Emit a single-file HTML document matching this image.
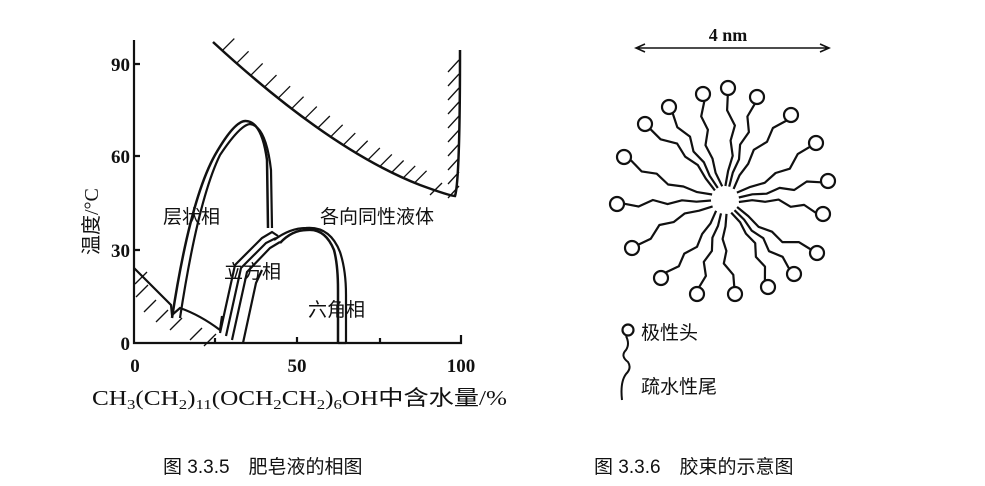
<!DOCTYPE html>
<html><head><meta charset="utf-8"><style>
html,body{margin:0;padding:0;background:#fff;}
svg{display:block}
text{font-family:"Liberation Serif","Noto Serif CJK SC",serif;fill:#111}
.cj{font-family:"Liberation Sans","Noto Sans CJK SC",sans-serif}
</style></head><body>
<svg id="s" width="985" height="486" viewBox="0 0 985 486" xmlns="http://www.w3.org/2000/svg">
<g fill="none" stroke="#111" stroke-width="2.2">
<path d="M134 40 V343 H461 V335"/>
<path d="M134 64 h6 M134 156 h6 M134 250 h6 M297 343 v-6 M215 343 v-5 M380 343 v-5"/>
<path d="M213 42 Q330 150 420 185 Q450 196 455 196 Q460 180 460 50" stroke-width="2.5"/>
<path d="M134 268 L171 305 L172 315 L180 308 Q200 315 220 330 L222 316"/>
<!-- lamellar dome -->
<path d="M172 318 Q190 200 215 155 Q235 120 246 121 Q262 122 267 160 L268 228" stroke-width="2.5"/>
<path d="M180 318 Q198 200 220 155 Q240 125 250 124 Q266 126 271 170 L272 228"/>
<!-- cubic bands -->
<path d="M220 333 L235 265 L262 238 L272 232 L278 236"/>
<path d="M226 336 L241 268 L266 243 L276 238"/>
<path d="M232 340 L247 272 L270 248 L280 242"/>
<path d="M243 343 L256 283 L262 270"/>
<!-- hexagonal dome -->
<path d="M280 243 Q292 230 307 230 Q325 228 334 250 Q338 265 338 290 V343" stroke-width="2.5"/>
<path d="M274 240 Q290 228 306 228 Q330 226 340 252 Q346 270 346 295 V343"/>
<path d="M338 343 H346"/>
</g>
<g id="h" stroke="#111" stroke-width="1.3"></g>
<g id="m" fill="none" stroke="#111" stroke-width="2.2"></g>
<text x="130" y="71" font-size="19" text-anchor="end" font-weight="bold">90</text>
<text x="130" y="163" font-size="19" text-anchor="end" font-weight="bold">60</text>
<text x="130" y="257" font-size="19" text-anchor="end" font-weight="bold">30</text>
<text x="130" y="350" font-size="19" text-anchor="end" font-weight="bold">0</text>
<text x="135" y="372" font-size="19" text-anchor="middle" font-weight="bold">0</text>
<text x="297" y="372" font-size="19" text-anchor="middle" font-weight="bold">50</text>
<text x="461" y="372" font-size="19" text-anchor="middle" font-weight="bold">100</text>
<text x="0" y="0" font-size="20" transform="translate(98,255) rotate(-90)"><tspan class="cj">温度</tspan>/°C</text>
<text x="92" y="405" font-size="21" textLength="415" lengthAdjust="spacingAndGlyphs">CH<tspan font-size="14" dy="4">3</tspan><tspan dy="-4">(CH</tspan><tspan font-size="14" dy="4">2</tspan><tspan dy="-4">)</tspan><tspan font-size="14" dy="4">11</tspan><tspan dy="-4">(OCH</tspan><tspan font-size="14" dy="4">2</tspan><tspan dy="-4">CH</tspan><tspan font-size="14" dy="4">2</tspan><tspan dy="-4">)</tspan><tspan font-size="14" dy="4">6</tspan><tspan dy="-4">OH</tspan><tspan class="cj">中含水量</tspan>/%</text>
<text class="cj" x="163" y="223" font-size="19">层状相</text>
<text class="cj" x="224" y="278" font-size="19">立方相</text>
<text class="cj" x="308" y="316" font-size="19">六角相</text>
<text class="cj" x="320" y="223" font-size="19">各向同性液体</text>
<text x="728" y="41" font-size="18" text-anchor="middle" font-weight="bold">4 nm</text>
<path d="M637 48 H828 M645 44 L636 48 L645 52 M820 44 L829 48 L820 52" stroke="#111" stroke-width="1.6" fill="none"/>
<circle cx="628" cy="330" r="5.5" fill="none" stroke="#111" stroke-width="2.2"/>
<path d="M626 336 q4 8 0 14 q-6 6 2 12 q4 6 -2 12 q-6 8 -4 26" fill="none" stroke="#111" stroke-width="2"/>
<text class="cj" x="641" y="339" font-size="19">极性头</text>
<text class="cj" x="641" y="393" font-size="19">疏水性尾</text>
<text class="cj" x="163" y="473" font-size="19">图 3.3.5　肥皂液的相图</text>
<text class="cj" x="594" y="473" font-size="19">图 3.3.6　胶束的示意图</text>
</svg>
<script>
var NS="http://www.w3.org/2000/svg";
function L(g,a){var e=document.createElementNS(NS,a[0]);for(var k in a[1])e.setAttribute(k,a[1][k]);document.getElementById(g).appendChild(e);}
function qb(p0,p1,p2,t){return [(1-t)*(1-t)*p0[0]+2*(1-t)*t*p1[0]+t*t*p2[0],(1-t)*(1-t)*p0[1]+2*(1-t)*t*p1[1]+t*t*p2[1]];}
for(var t=0.04;t<1;t+=0.062){var p=qb([213,42],[330,150],[420,185],t);L("h",["line",{x1:p[0],y1:p[1],x2:p[0]+12,y2:p[1]-12}]);}
for(var y=60;y<190;y+=14)L("h",["line",{x1:448,y1:y+12,x2:459,y2:y}]);
L("h",["line",{x1:430,y1:195,x2:442,y2:183}]);
[[136,285],[144,300],[156,310],[170,318],[190,328],[204,334],[135,272]].forEach(function(p){L("h",["line",{x1:p[0],y1:p[1]+12,x2:p[0]+12,y2:p[1]}]);});
var C=[[728,88],[757,97],[791,115],[816,143],[828,181],[823,214],[817,253],[794,274],[768,287],[735,294],[697,294],[661,278],[632,248],[617,204],[624,157],[645,124],[669,107],[703,94]];
var cx=725,cy=200;
C.forEach(function(c,i){
  L("m",["circle",{cx:c[0],cy:c[1],r:7}]);
  var dx=cx-c[0],dy=cy-c[1],d=Math.hypot(dx,dy),ux=dx/d,uy=dy/d,nx=-uy,ny=ux;
  var sx=c[0]+ux*7,sy=c[1]+uy*7,len=d-7-14,s="M"+sx.toFixed(1)+" "+sy.toFixed(1);
  var n=6;for(var j=1;j<=n;j++){var f=j/n,w=(j%2?1:-1)*4*(1-f)+ (i%3-1)*6*Math.sin(f*Math.PI);
    var px=sx+ux*len*f+nx*w,py=sy+uy*len*f+ny*w;s+=" L"+px.toFixed(1)+" "+py.toFixed(1);}
  L("m",["path",{d:s,"stroke-linejoin":"round"}]);
});
</script>
</body></html>
